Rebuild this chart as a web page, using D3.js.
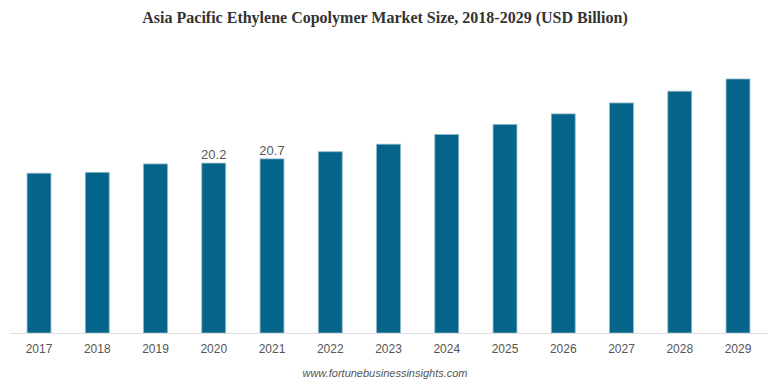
<!DOCTYPE html>
<html><head><meta charset="utf-8">
<script src="https://cdn.jsdelivr.net/npm/d3@7"></script>
<style>body{margin:0;background:#fff}</style>
</head><body><svg id="c" width="770" height="385"></svg>
<script>
const years = ["2017","2018","2019","2020","2021","2022","2023","2024","2025","2026","2027","2028","2029"];
const values = [19.0, 19.1, 20.1, 20.2, 20.7, 21.55, 22.45, 23.6, 24.8, 26.05, 27.35, 28.75, 30.2];
const labelled = ["2020","2021"];
const title = "Asia Pacific Ethylene Copolymer Market Size, 2018-2029 (USD Billion)";
const source = "www.fortunebusinessinsights.com";

const svg = d3.select("#c");
const x = d3.scaleBand().domain(years).range([10, 767]).paddingInner(0.59).paddingOuter(0.293);
const y = d3.scaleLinear().domain([0, 30.2]).range([333, 79]);

svg.append("text").attr("x", 385).attr("y", 23).attr("text-anchor", "middle")
  .attr("font-family", "Liberation Serif, Times New Roman, serif").attr("font-weight", "bold")
  .attr("font-size", 16).attr("fill", "#333").text(title);

svg.append("g").selectAll("rect").data(years).join("rect")
  .attr("x", d => x(d)).attr("width", x.bandwidth())
  .attr("y", (d, i) => y(values[i])).attr("height", (d, i) => y(0) - y(values[i]))
  .attr("fill", "#05648a").attr("stroke", "#8db9cc").attr("stroke-width", 0.8);

const ax = svg.append("g").attr("transform", "translate(0,333.5)")
  .call(d3.axisBottom(x).tickSize(0).tickPadding(11));
ax.select(".domain").attr("stroke", "#ddd").attr("d", "M10,0H768");
ax.selectAll("text").attr("font-family", "Liberation Sans, Arial, sans-serif")
  .attr("font-size", 12).attr("fill", "#555");

svg.append("g").selectAll("text").data(years.filter(d => labelled.includes(d))).join("text")
  .attr("x", d => x(d) + x.bandwidth() / 2)
  .attr("y", d => y(values[years.indexOf(d)]) - 4)
  .attr("text-anchor", "middle").attr("font-family", "Liberation Sans, Arial, sans-serif")
  .attr("font-size", 13).attr("fill", "#555")
  .text(d => values[years.indexOf(d)].toFixed(1));

svg.append("text").attr("x", 385).attr("y", 377).attr("text-anchor", "middle")
  .attr("font-family", "Liberation Sans, Arial, sans-serif").attr("font-style", "italic")
  .attr("font-size", 11).attr("fill", "#555").text(source);
</script></body></html>
